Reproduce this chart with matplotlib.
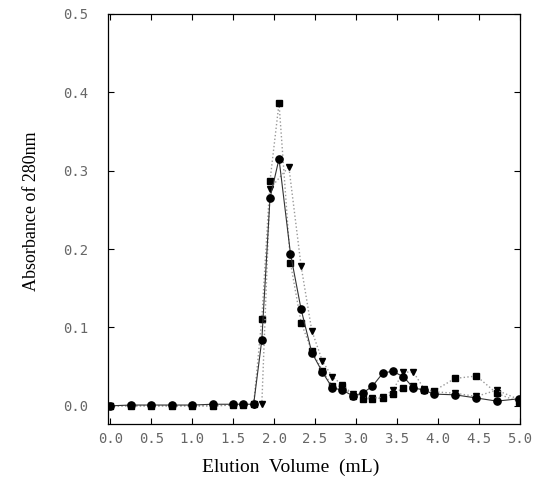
import matplotlib
matplotlib.use("Agg")
import matplotlib.pyplot as plt

# elution volume (mL) and absorbance at 280 nm
x_circ = [0, 0.25, 0.5, 0.75, 1.0, 1.25, 1.5, 1.62, 1.75, 1.85, 1.95, 2.06, 2.2, 2.33, 2.46,
          2.59, 2.71, 2.83, 2.96, 3.08, 3.2, 3.33, 3.45, 3.58, 3.7, 3.83, 3.95, 4.21, 4.47, 4.72, 4.99]
y_circ = [0, 0.001, 0.001, 0.001, 0.001, 0.002, 0.002, 0.002, 0.002, 0.084, 0.265, 0.315, 0.194, 0.123, 0.068,
          0.043, 0.023, 0.020, 0.013, 0.016, 0.025, 0.042, 0.044, 0.037, 0.023, 0.020, 0.015, 0.014, 0.010, 0.006, 0.009]

x_sq = [0, 0.25, 0.5, 0.75, 1.0, 1.25, 1.5, 1.62, 1.75, 1.85, 1.95, 2.06, 2.2, 2.33, 2.46, 2.59,
        2.71, 2.83, 2.96, 3.08, 3.2, 3.33, 3.45, 3.58, 3.7, 3.83, 3.95, 4.21, 4.47, 4.72, 4.99]
y_sq = [0, 0, 0, 0, 0, 0, 0.001, 0.001, 0.002, 0.111, 0.287, 0.386, 0.182, 0.106, 0.070, 0.045,
        0.025, 0.025, 0.013, 0.009, 0.009, 0.010, 0.015, 0.023, 0.025, 0.020, 0.019, 0.035, 0.038, 0.016, 0.005]

x_tri = [0, 0.25, 0.5, 0.75, 1.0, 1.25, 1.5, 1.62, 1.75, 1.85, 1.95, 2.18, 2.33, 2.46, 2.59, 2.71,
         2.83, 2.96, 3.08, 3.2, 3.33, 3.45, 3.58, 3.7, 3.83, 3.95, 4.21, 4.47, 4.72, 4.99]
y_tri = [0, 0, 0, 0, 0, 0, 0.001, 0.001, 0.001, 0.002, 0.277, 0.305, 0.178, 0.096, 0.057, 0.037,
         0.027, 0.015, 0.012, 0.010, 0.011, 0.020, 0.043, 0.043, 0.022, 0.018, 0.016, 0.012, 0.020, 0.008]

x_ticks = [0.0, 0.5, 1.0, 1.5, 2.0, 2.5, 3.0, 3.5, 4.0, 4.5, 5.0]
y_ticks = [0.0, 0.1, 0.2, 0.3, 0.4, 0.5]

fig = plt.figure(figsize=(5.42, 4.94), dpi=100)
ax = fig.add_axes([0.199, 0.142, 0.76, 0.83])

ax.plot(x_sq, y_sq, linestyle=':', color='#999999', lw=1, marker='s', ms=4.2,
        mfc='black', mec='black')
ax.plot(x_tri, y_tri, linestyle=':', color='#999999', lw=1, marker='v', ms=5,
        mfc='black', mec='black')
ax.plot(x_circ, y_circ, linestyle='-', color='#333333', lw=0.8, marker='o', ms=5.2,
        mfc='black', mec='black')

ax.set_xlim(-0.03, 5.0)
ax.set_ylim(-0.023, 0.5)
ax.set_xticks(x_ticks)
ax.set_yticks(y_ticks)
ax.set_xticklabels(['%.1f' % v for v in x_ticks])
ax.set_yticklabels(['%.1f' % v for v in y_ticks])
ax.tick_params(direction='in', top=True, right=True, length=4, width=0.8,
               labelsize=10, labelcolor='#666666')
ax.tick_params(axis='y', pad=14)
ax.tick_params(axis='x', pad=6)
for lab in ax.get_xticklabels() + ax.get_yticklabels():
    lab.set_family('DejaVu Sans Mono')

for s in ax.spines.values():
    s.set_linewidth(0.9)

fig.text(0.537, 0.053, 'Elution  Volume  (mL)', family='Liberation Serif',
         fontsize=14, ha='center', va='center')
fig.text(0.059, 0.573, 'Absorbance of 280nm', family='Liberation Serif',
         fontsize=13, ha='center', va='center', rotation=90)

fig.savefig('out.png', dpi=100)
